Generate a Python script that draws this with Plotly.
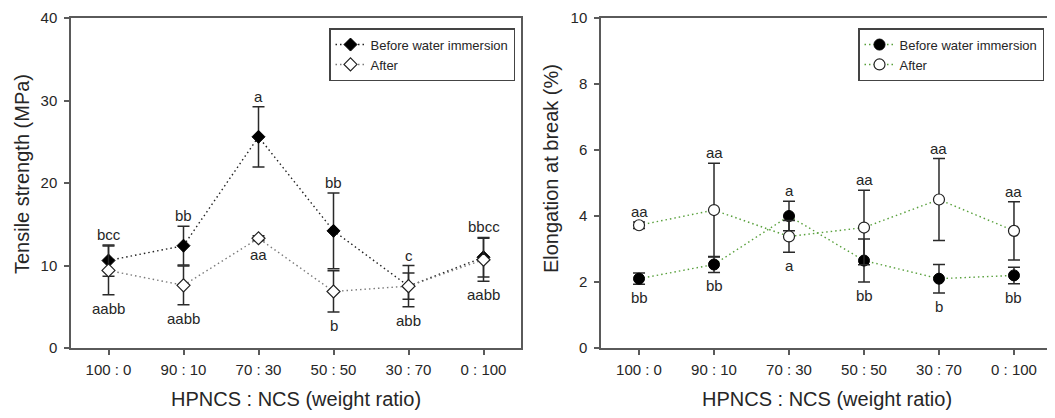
import plotly.graph_objects as go

# ---------------- data ----------------
categories = ["100 : 0", "90 : 10", "70 : 30", "50 : 50", "30 : 70", "0 : 100"]

ts_before = [10.6, 12.4, 25.6, 14.2, 7.5, 11.0]
ts_before_err = [1.9, 2.35, 3.65, 4.6, 2.5, 2.4]
ts_after = [9.4, 7.6, 13.3, 6.85, 7.5, 10.7]
ts_after_err = [2.95, 2.35, 0.3, 2.5, 1.6, 2.6]

el_before = [2.1, 2.53, 4.0, 2.65, 2.1, 2.2]
el_before_err = [0.17, 0.24, 0.45, 0.65, 0.43, 0.25]
el_after = [3.72, 4.18, 3.38, 3.65, 4.5, 3.55]
el_after_err = [0.1, 1.42, 0.48, 1.13, 1.24, 0.88]

ts_letters_top = ["bcc", "bb", "a", "bb", "c", "bbcc"]
ts_letters_bottom = ["aabb", "aabb", "aa", "b", "abb", "aabb"]
el_letters_top = ["aa", "aa", "a", "aa", "aa", "aa"]
el_letters_bottom = ["bb", "bb", "a", "bb", "b", "bb"]

series_names = ["Before water immersion", "After"]
y_titles = ["Tensile strength (MPa)", "Elongation at break (%)"]
x_title = "HPNCS : NCS (weight ratio)"

# ---------------- styling ----------------
OFF = 8  # page body margin of the browser
W, H = 1055 - OFF, 418 - OFF
FONT = "Arial, Liberation Sans, sans-serif"
TXT = "#262626"
AX = "#5a5a5a"
GREEN = "rgb(88,160,60)"
DOTS = "1.5px,3px"

def fx(X):
    return (X - OFF) / W

top_px, bot_px = 18.4 - OFF, 348.5 - OFF
PH = bot_px - top_px

def fy(Y):
    return (bot_px - (Y - OFF)) / PH

fig = go.Figure()

def add_pair(xa, ya, before, berr, after, aerr, symbol, lcol_b, lcol_a, legend, msize):
    fig.add_trace(go.Scatter(
        x=categories, y=before, name=series_names[0], mode="lines+markers",
        xaxis=xa, yaxis=ya, legend=legend,
        line=dict(color=lcol_b, dash=DOTS, width=1.4),
        marker=dict(symbol=symbol, size=msize, color="black", line=dict(color="black", width=1)),
        error_y=dict(type="data", array=berr, visible=True, color="#2a2a2a", thickness=1.5, width=6),
    ))
    fig.add_trace(go.Scatter(
        x=categories, y=after, name=series_names[1], mode="lines+markers",
        xaxis=xa, yaxis=ya, legend=legend,
        line=dict(color=lcol_a, dash=DOTS, width=1.4),
        marker=dict(symbol=symbol, size=msize, color="white", line=dict(color="#222", width=1.2)),
        error_y=dict(type="data", array=aerr, visible=True, color="#2a2a2a", thickness=1.5, width=6),
    ))

add_pair("x", "y", ts_before, ts_before_err, ts_after, ts_after_err,
         "diamond", "#222222", "#7a7a7a", "legend", 10)
add_pair("x2", "y2", el_before, el_before_err, el_after, el_after_err,
         "circle", GREEN, GREEN, "legend2", 11)

def add_letters(xref, yref, before, berr, after, aerr, tops, bottoms):
    for i, c in enumerate(categories):
        hi = max(before[i] + berr[i], after[i] + aerr[i])
        lo = min(before[i] - berr[i], after[i] - aerr[i])
        fig.add_annotation(x=c, y=hi, xref=xref, yref=yref, text=tops[i], showarrow=False,
                           xanchor="center", yanchor="bottom", yshift=0,
                           font=dict(family=FONT, size=15, color=TXT))
        fig.add_annotation(x=c, y=lo, xref=xref, yref=yref, text=bottoms[i], showarrow=False,
                           xanchor="center", yanchor="top", yshift=-3,
                           font=dict(family=FONT, size=15, color=TXT))

add_letters("x", "y", ts_before, ts_before_err, ts_after, ts_after_err, ts_letters_top, ts_letters_bottom)
add_letters("x2", "y2", el_before, el_before_err, el_after, el_after_err, el_letters_top, el_letters_bottom)

left_dom = [fx(71), fx(521)]
right_dom = [fx(601), 1.0]

axis_common = dict(showline=True, linecolor=AX, linewidth=1.5, ticks="outside", ticklen=5,
                   tickwidth=1.5, tickcolor=AX, showgrid=False, zeroline=False,
                   tickfont=dict(family=FONT, size=15, color=TXT), automargin=False)

legend_common = dict(xanchor="left", yanchor="top", bgcolor="white", bordercolor="#444",
                     borderwidth=1.5, font=dict(family=FONT, size=13, color=TXT),
                     tracegroupgap=0, itemwidth=30)

fig.update_layout(
    width=W, height=H,
    margin=dict(l=0, r=0, t=top_px, b=H - bot_px),
    paper_bgcolor="white", plot_bgcolor="white",
    font=dict(family=FONT, color=TXT),
    xaxis=dict(domain=left_dom, type="category", categoryorder="array", categoryarray=categories,
               range=[-0.5, 5.5], mirror=True, ticklabelstandoff=2, anchor="y", **axis_common),
    yaxis=dict(range=[0, 40], tickvals=[0, 10, 20, 30, 40], mirror=True, anchor="x",
               ticklabelstandoff=4, **axis_common),
    xaxis2=dict(domain=right_dom, type="category", categoryorder="array", categoryarray=categories,
                range=[-0.507, 5.547], mirror=True, ticklabelstandoff=2, anchor="y2", **axis_common),
    yaxis2=dict(range=[0, 10], tickvals=[0, 2, 4, 6, 8, 10], mirror=False, anchor="x2",
                ticklabelstandoff=4, **axis_common),
    legend=dict(x=fx(329), y=fy(28.5), **legend_common),
    legend2=dict(x=fx(858), y=fy(28.5), **legend_common),
    showlegend=True,
)

tfont = dict(family=FONT, size=20, color=TXT)
fig.add_annotation(x=fx(22), y=fy(174.5), xref="paper", yref="paper", text=y_titles[0], textangle=-90,
                   xanchor="center", yanchor="middle", showarrow=False, font=tfont)
fig.add_annotation(x=fx(551), y=fy(169.5), xref="paper", yref="paper", text=y_titles[1], textangle=-90,
                   xanchor="center", yanchor="middle", showarrow=False, font=tfont)
fig.add_annotation(x=fx(296), y=fy(400), xref="paper", yref="paper", text=x_title,
                   xanchor="center", yanchor="middle", showarrow=False, font=tfont)
fig.add_annotation(x=fx(827), y=fy(400), xref="paper", yref="paper", text=x_title,
                   xanchor="center", yanchor="middle", showarrow=False, font=tfont)

fig.write_html("out.html")
